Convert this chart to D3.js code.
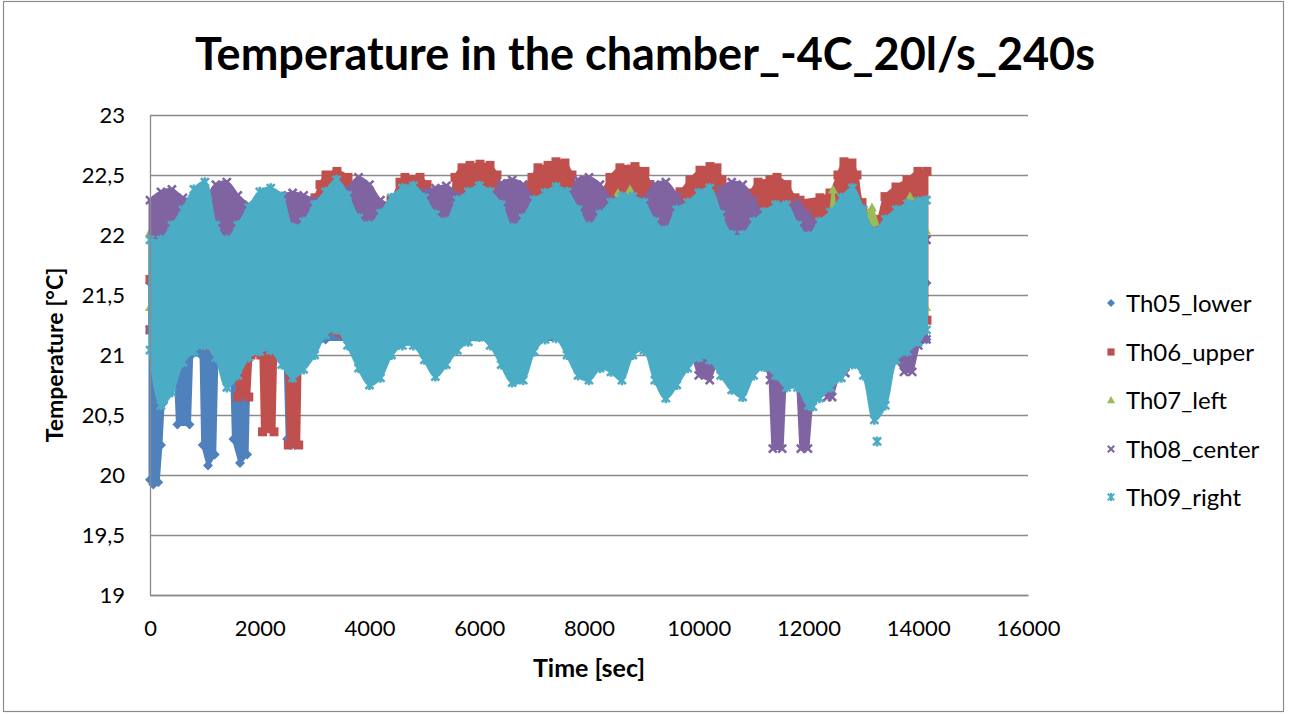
<!DOCTYPE html>
<html>
<head>
<meta charset="utf-8">
<script src="https://cdn.jsdelivr.net/npm/d3@7"></script>
<style>
  html, body { margin: 0; padding: 0; background: #ffffff; }
  svg { display: block; }
</style>
</head>
<body>
<svg id="chart" width="1290" height="715"></svg>
<script>
// ---------------- DATA ----------------
const chartTitle = "Temperature in the chamber_-4C_20l/s_240s";
const xAxisTitle = "Time [sec]";
const yAxisTitle = "Temperature [°C]";
const seriesNames = ["Th05_lower", "Th06_upper", "Th07_left", "Th08_center", "Th09_right"];
const seriesColors = ["#4F81BD", "#C0504D", "#9BBB59", "#8064A2", "#4BACC6"];
const seriesMarkers = ["diamond", "square", "triangle", "x", "star"];
const xTickValues = [0, 2000, 4000, 6000, 8000, 10000, 12000, 14000, 16000];
const yTickValues = [19, 19.5, 20, 20.5, 21, 21.5, 22, 22.5, 23];

// Each series: upper and lower envelope of the scattered readings, [time s, temperature °C]
const th05Upper = [[0,21.6],[3200,21.6],[14150,21.6]];
const th05Lower = [[0,19.96],[60,19.92],[150,19.94],[200,20.25],[240,20.6],[280,21.0],[450,21.0],[500,20.42],[720,20.42],[760,21.0],[930,21.0],[960,20.25],[1057,20.08],[1180,20.17],[1220,21.0],[1480,21.0],[1520,20.3],[1640,20.1],[1770,20.17],[1810,21.0],[2460,21.0],[2500,20.3],[2560,20.25],[2640,20.25],[2680,21.0],[3200,21.13],[14150,21.13]];

const th06Upper = [[0,21.63],[911,21.71],[1822,21.71],[2733,21.79],[2880,22.25],[3007,22.31],[3098,22.42],[3207,22.5],[3407,22.53],[3608,22.48],[3717,22.29],[4009,22.21],[4392,22.29],[4556,22.44],[4647,22.48],[4920,22.48],[5048,22.42],[5194,22.25],[5467,22.25],[5558,22.48],[5686,22.56],[5831,22.58],[6014,22.59],[6196,22.58],[6323,22.5],[6433,22.38],[6651,22.33],[6961,22.48],[7071,22.56],[7253,22.58],[7398,22.61],[7562,22.6],[7690,22.5],[7836,22.29],[8200,22.33],[8382,22.48],[8564,22.56],[8838,22.57],[9020,22.53],[9111,22.42],[9293,22.25],[9476,22.33],[9658,22.36],[9840,22.46],[10023,22.54],[10205,22.57],[10332,22.56],[10423,22.46],[10514,22.35],[10751,22.25],[10934,22.35],[11080,22.44],[11298,22.46],[11426,22.48],[11608,22.42],[11754,22.31],[11845,22.29],[12209,22.31],[12392,22.35],[12537,22.5],[12646,22.61],[12792,22.6],[12883,22.5],[12975,22.27],[13248,22.13],[13394,22.32],[13594,22.4],[13795,22.46],[13995,22.53],[14159,22.53]];
const th06Lower = [[0,21.21],[400,21.08],[800,21.08],[1200,21.03],[1560,21.0],[1600,20.65],[1800,20.65],[1840,21.0],[2020,21.0],[2050,20.36],[2260,20.36],[2290,21.0],[2490,21.0],[2520,20.25],[2710,20.25],[2740,21.04],[3200,21.21],[4000,21.04],[4800,21.13],[5400,21.21],[14159,21.29]];

const th07Upper = [[0,22.02],[200,22.0],[401,21.96],[802,22.17],[1002,22.25],[1403,21.88],[2005,22.21],[2606,21.96],[3408,22.25],[4009,22.0],[4793,22.25],[5394,22.0],[5995,22.25],[6615,22.04],[7398,22.21],[8055,22.08],[8310,22.17],[8528,22.35],[8638,22.25],[8747,22.38],[8929,22.17],[9403,21.96],[9804,22.18],[10205,22.21],[10606,21.92],[11207,22.04],[11663,22.0],[12027,21.98],[12301,22.1],[12400,22.12],[12446,22.38],[12500,22.12],[12665,22.15],[13029,22.18],[13157,22.23],[13339,21.98],[13594,22.13],[13800,22.15],[13850,22.32],[13900,22.15],[13995,22.17],[14141,22.04]];
const th07Lower = [[0,21.4],[14141,21.4]];

const th08Upper = [[0,22.29],[200,22.36],[400,22.38],[600,22.31],[800,22.29],[1000,22.29],[1200,22.42],[1400,22.44],[1600,22.33],[1800,22.25],[2000,22.21],[2200,22.25],[2400,22.33],[2600,22.35],[2800,22.33],[3000,22.29],[3200,22.25],[3400,22.29],[3600,22.38],[3800,22.48],[4000,22.42],[4200,22.29],[4400,22.25],[4600,22.25],[4800,22.21],[5000,22.36],[5200,22.39],[5400,22.41],[5600,22.33],[5800,22.21],[6000,22.19],[6200,22.29],[6400,22.43],[6600,22.46],[6800,22.42],[7000,22.29],[7200,22.21],[7400,22.19],[7600,22.29],[7800,22.46],[8000,22.48],[8200,22.42],[8400,22.29],[8600,22.19],[8800,22.17],[9000,22.29],[9200,22.42],[9400,22.44],[9600,22.33],[9800,22.21],[10000,22.17],[10200,22.19],[10400,22.38],[10600,22.44],[10800,22.42],[11000,22.29],[11200,22.17],[11400,22.13],[11600,22.21],[11800,22.27],[12000,22.17],[12200,22.08],[12400,22.04],[12600,22.04],[12800,22.08],[13000,22.08],[13200,22.04],[13400,21.96],[13600,21.96],[13800,21.96],[14000,21.96],[14150,21.96]];
const th08Lower = [[0,21.21],[9200,21.21],[9400,20.88],[9600,21.04],[9800,21.13],[10000,20.83],[10200,20.79],[10400,21.04],[10600,21.13],[10800,21.08],[11000,21.04],[11200,20.96],[11300,20.79],[11350,20.22],[11520,20.22],[11570,20.75],[11800,20.79],[11860,20.22],[11990,20.22],[12060,20.63],[12250,20.75],[12340,20.65],[12430,20.65],[12540,20.83],[12670,20.85],[12800,20.96],[13000,21.04],[13200,21.0],[13400,21.04],[13600,20.96],[13740,20.86],[13890,20.86],[14000,21.08],[14150,21.13]];

const th09Upper = [[0,21.96],[200,21.96],[400,22.08],[600,22.21],[800,22.38],[1000,22.44],[1200,22.08],[1400,21.96],[1600,22.08],[1800,22.23],[2000,22.36],[2200,22.39],[2400,22.32],[2600,22.06],[2800,22.11],[3000,22.25],[3200,22.36],[3400,22.46],[3600,22.33],[3800,22.14],[4000,22.08],[4200,22.18],[4400,22.31],[4600,22.39],[4800,22.41],[5000,22.31],[5200,22.17],[5400,22.11],[5600,22.29],[5800,22.36],[6000,22.41],[6200,22.36],[6400,22.25],[6600,22.06],[6800,22.14],[7000,22.29],[7200,22.35],[7400,22.4],[7600,22.36],[7800,22.21],[8000,22.07],[8200,22.17],[8400,22.27],[8600,22.32],[8800,22.32],[9000,22.27],[9200,22.11],[9400,22.04],[9600,22.21],[9800,22.27],[10000,22.35],[10200,22.39],[10400,22.17],[10600,22.0],[10800,22.0],[11000,22.11],[11200,22.19],[11400,22.25],[11600,22.25],[11800,22.08],[12000,21.99],[12200,22.11],[12400,22.19],[12600,22.31],[12800,22.39],[13000,22.21],[13200,22.03],[13400,22.13],[13600,22.21],[13800,22.26],[14000,22.28],[14150,22.29]];
const th09Lower = [[0,21.04],[200,20.58],[400,20.69],[600,20.94],[800,21.03],[1000,21.08],[1200,20.98],[1400,20.73],[1600,20.83],[1800,20.98],[2000,21.03],[2200,21.04],[2400,20.92],[2600,20.81],[2800,20.88],[3000,21.0],[3200,21.17],[3400,21.21],[3600,21.08],[3800,20.89],[4000,20.75],[4200,20.81],[4400,21.0],[4600,21.08],[4800,21.08],[5000,20.96],[5200,20.82],[5400,20.92],[5600,21.04],[5800,21.11],[6000,21.15],[6200,21.08],[6400,20.92],[6600,20.77],[6800,20.79],[7000,21.03],[7200,21.13],[7400,21.14],[7600,21.0],[7800,20.83],[8000,20.79],[8200,20.89],[8400,20.86],[8600,20.79],[8800,21.0],[9000,21.04],[9200,20.79],[9400,20.64],[9600,20.75],[9800,20.89],[10000,20.98],[10200,20.96],[10400,20.83],[10600,20.71],[10800,20.65],[11000,20.83],[11200,20.9],[11400,20.83],[11600,20.73],[11800,20.73],[12000,20.58],[12200,20.64],[12400,20.73],[12600,20.81],[12800,20.92],[13000,20.83],[13200,20.46],[13400,20.58],[13600,20.96],[13800,21.03],[14000,21.11],[14150,21.21]];
const th09Isolated = [[12080,20.57],[13250,20.28]];

// ---------------- CHART ----------------
const svg = d3.select("#chart");
const plot = { left: 150, right: 1028, top: 115, bottom: 595 };
const FONT = "Lato, 'Open Sans', 'Liberation Sans', sans-serif";
const GRID = "#8a8a8a";

const x = d3.scaleLinear().domain([0, 16000]).range([plot.left, plot.right]);
const y = d3.scaleLinear().domain([19, 23]).range([plot.bottom, plot.top]);

// outer chart border
svg.append("rect").attr("x", 3.5).attr("y", 1.5).attr("width", 1280).attr("height", 710)
  .attr("fill", "#fff").attr("stroke", "#8c8c8c").attr("stroke-width", 1.2);

// title
svg.append("text").attr("x", 645).attr("y", 70).attr("text-anchor", "middle")
  .attr("font-family", FONT).attr("font-weight", "bold").attr("font-size", 45)
  .text(chartTitle);

// gridlines
svg.append("g").selectAll("line").data(yTickValues).join("line")
  .attr("x1", plot.left).attr("x2", plot.right)
  .attr("y1", d => Math.round(y(d)) + 0.5).attr("y2", d => Math.round(y(d)) + 0.5)
  .attr("stroke", GRID).attr("stroke-width", 1.3);

// series
const seriesData = [
  { upper: th05Upper, lower: th05Lower, extra: [], smoothUp: false, smoothLo: false },
  { upper: th06Upper, lower: th06Lower, extra: [], smoothUp: true, smoothLo: false },
  { upper: th07Upper, lower: th07Lower, extra: [], smoothUp: false, smoothLo: false },
  { upper: th08Upper, lower: th08Lower, extra: [], smoothUp: true, smoothLo: false },
  { upper: th09Upper, lower: th09Lower, extra: th09Isolated, smoothUp: true, smoothLo: true }
];

function markerPath(shape, s) {
  switch (shape) {
    case "diamond": return `M0,${-s}L${s},0L0,${s}L${-s},0Z`;
    case "square": { const h = s * 0.9; return `M${-h},${-h}H${h}V${h}H${-h}Z`; }
    case "triangle": return `M0,${-s}L${s},${s * 0.8}L${-s},${s * 0.8}Z`;
    case "x": { const h = s * 0.8; return `M${-h},${-h}L${h},${h}M${-h},${h}L${h},${-h}`; }
    case "star": { const h = s * 0.8; return `M${-h},${-h}L${h},${h}M${-h},${h}L${h},${-h}M0,${-s}L0,${s}`; }
  }
}
function styleMarker(sel, shape, color, sw) {
  if (shape === "x" || shape === "star") {
    sel.attr("fill", "none").attr("stroke", color).attr("stroke-width", sw);
  } else {
    sel.attr("fill", color).attr("stroke", "none");
  }
}

const lineLin = d3.line().x(d => x(d[0])).y(d => y(d[1]));
const lineSmooth = d3.line().x(d => x(d[0])).y(d => y(d[1])).curve(d3.curveCatmullRom.alpha(0.5));
const gSeries = svg.append("g");
seriesData.forEach((sd, i) => {
  const g = gSeries.append("g");
  const upPath = (sd.smoothUp ? lineSmooth : lineLin)(sd.upper);
  const loPath = (sd.smoothLo ? lineSmooth : lineLin)(sd.lower.slice().reverse()).replace(/^M/, "L");
  g.append("path").attr("d", upPath + loPath + "Z")
    .attr("fill", seriesColors[i]).attr("stroke", seriesColors[i]).attr("stroke-width", 3).attr("stroke-linejoin", "round");
  const pts = sd.upper.concat(sd.lower, sd.extra);
  g.selectAll("path.m").data(pts).join("path").attr("class", "m")
    .attr("transform", d => `translate(${x(d[0])},${y(d[1])})`)
    .attr("d", markerPath(seriesMarkers[i], 5))
    .call(styleMarker, seriesMarkers[i], seriesColors[i], 2.6);
});

// axes
const fmt = d => String(d).replace(".", ",");
const gx = svg.append("g").attr("transform", `translate(0,${plot.bottom})`)
  .call(d3.axisBottom(x).tickValues(xTickValues).tickSize(0).tickFormat(d => d));
gx.select(".domain").attr("stroke", GRID).attr("stroke-width", 1.3);
gx.selectAll("text").attr("y", 41).attr("dy", 0).attr("font-family", FONT).attr("font-size", 22).attr("fill", "#000");

const gy = svg.append("g").attr("transform", `translate(${plot.left},0)`)
  .call(d3.axisLeft(y).tickValues(yTickValues).tickSize(0).tickPadding(25).tickFormat(fmt));
gy.select(".domain").attr("stroke", GRID).attr("stroke-width", 1.3);
gy.selectAll("text").attr("dy", "0.36em").attr("font-family", FONT).attr("font-size", 22).attr("fill", "#000");

// axis titles
svg.append("text").attr("x", (plot.left + plot.right) / 2).attr("y", 677).attr("text-anchor", "middle")
  .attr("font-family", FONT).attr("font-weight", "bold").attr("font-size", 25).text(xAxisTitle);
svg.append("text").attr("transform", `translate(63,${(plot.top + plot.bottom) / 2}) rotate(-90)`)
  .attr("text-anchor", "middle").attr("font-family", FONT).attr("font-weight", "bold").attr("font-size", 23)
  .text(yAxisTitle);

// legend
const legendY = [303, 352, 400, 449, 497];
const gl = svg.append("g");
seriesNames.forEach((name, i) => {
  gl.append("path").attr("transform", `translate(1111,${legendY[i]})`)
    .attr("d", markerPath(seriesMarkers[i], 4))
    .call(styleMarker, seriesMarkers[i], seriesColors[i], 2);
  gl.append("text").attr("x", 1126).attr("y", legendY[i]).attr("dy", "0.36em")
    .attr("font-family", FONT).attr("font-size", 24).attr("fill", "#000").text(name);
});
</script>
</body>
</html>
